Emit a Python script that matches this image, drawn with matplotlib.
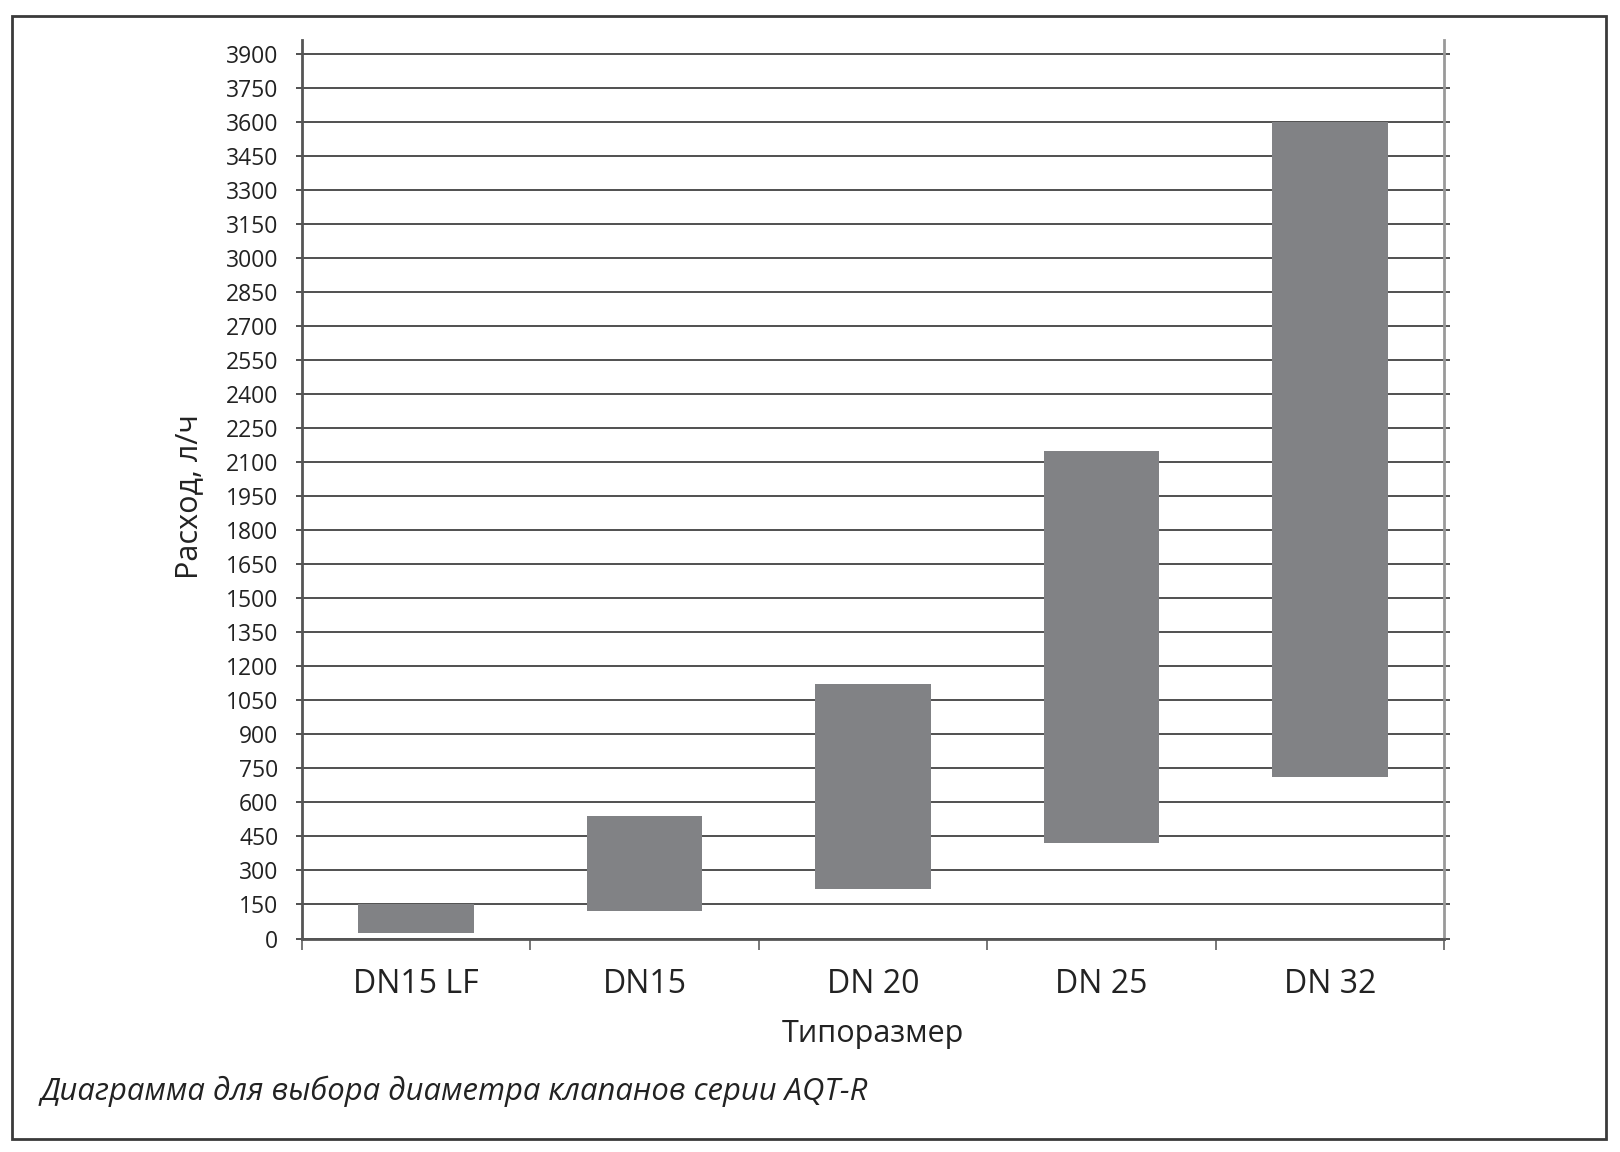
import matplotlib
matplotlib.use("Agg")
import matplotlib.pyplot as plt
import numpy as np
from matplotlib.patches import Rectangle

plt.rcParams['font.family'] = ['Open Sans', 'DejaVu Sans']

# данные диаграммы (диапазон расхода, л/ч)
sizes = ["DN15 LF", "DN15", "DN 20", "DN 25", "DN 32"]
flow_min = [25, 120, 220, 420, 710]
flow_max = [150, 540, 1120, 2150, 3600]
y_ticks = list(range(0, 3901, 150))

BAR_COLOR = "#818285"
GRID_COLOR = "#505050"

fig = plt.figure(figsize=(16.2, 11.52), dpi=100)
ax = fig.add_axes([302 / 1620, 1 - 938.5 / 1152, (1444 - 302) / 1620, (938.5 - 40.4) / 1152])

x = np.arange(len(sizes))
heights = np.array(flow_max) - np.array(flow_min)
ax.bar(x, heights, bottom=flow_min, width=0.506, color=BAR_COLOR, zorder=3)

ax.set_xlim(-0.5, len(sizes) - 0.5)
ax.set_ylim(0, 3960)

# ось Y
ax.set_yticks(y_ticks)
ax.set_yticklabels([str(v) for v in y_ticks], fontsize=16.5, color="#222222")
ax.yaxis.grid(True, color=GRID_COLOR, linewidth=1.4, zorder=0)
ax.tick_params(axis="y", which="major", length=4, width=1.4, color=GRID_COLOR,
               pad=13, right=True, direction="out")

# ось X: засечки между категориями, подписи по центру
ax.set_xticks(np.arange(-0.5, len(sizes), 1.0))
ax.set_xticklabels([])
ax.set_xticks(x, minor=True)
ax.set_xticklabels(sizes, minor=True, fontsize=23, color="#222222")
ax.tick_params(axis="x", which="major", length=8, width=1.4, color="#777777", direction="out")
ax.tick_params(axis="x", which="minor", length=0, pad=21)

ax.spines["top"].set_visible(False)
ax.spines["left"].set_color("#555555")
ax.spines["left"].set_linewidth(2)
ax.spines["bottom"].set_color("#555555")
ax.spines["bottom"].set_linewidth(2)
ax.spines["right"].set_color("#999999")
ax.spines["right"].set_linewidth(2)

ax.set_ylabel("Расход, л/ч", fontsize=22, color="#222222")
ax.yaxis.set_label_coords(-0.086, 0.4916)
ax.set_xlabel("Типоразмер", fontsize=22, color="#222222", labelpad=13)

# подпись диаграммы и рамка
fig.text(41 / 1620, 1 - 1091 / 1152, "Диаграмма для выбора диаметра клапанов серии AQT-R",
         fontsize=22.3, style="italic", color="#222222", va="center", ha="left")
fig.patches.append(Rectangle((12 / 1620, 1 - 1139 / 1152), (1606 - 12) / 1620, (1139 - 16) / 1152,
                             transform=fig.transFigure, fill=False, edgecolor="#3a3a3a", linewidth=2))

fig.savefig("out.png", dpi=100)
